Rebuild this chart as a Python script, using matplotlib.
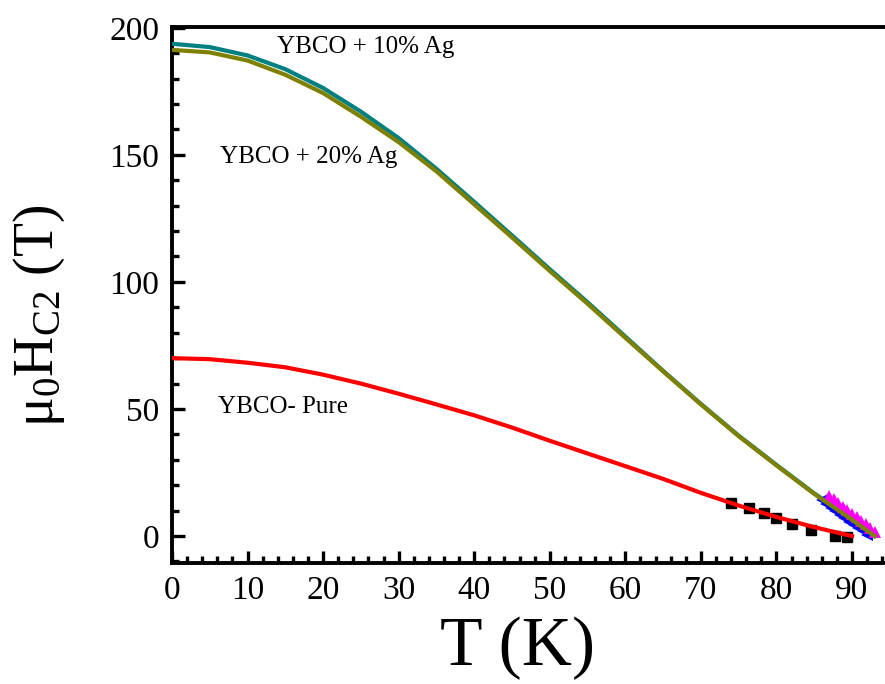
import matplotlib
matplotlib.use("Agg")
import matplotlib.pyplot as plt
from matplotlib.ticker import MultipleLocator

plt.rcParams['font.family'] = ['Liberation Serif', 'DejaVu Serif']
plt.rcParams['mathtext.fontset'] = 'custom'
plt.rcParams['mathtext.rm'] = 'Liberation Serif'
plt.rcParams['mathtext.it'] = 'Liberation Serif'

# ---- data ----
T_curve = [0, 5, 10, 15, 20, 25, 30, 35, 40, 45, 50, 55, 60, 65, 70, 75, 80, 85, 90, 93]
H_ag10 = [193.7, 192.4, 189.1, 183.7, 176.3, 167.0, 156.6, 144.5, 131.5, 118.3,
          105.0, 92.0, 78.5, 65.0, 52.0, 39.5, 28.0, 16.8, 6.5, 0.0]
H_ag20 = [191.3, 190.3, 187.1, 181.5, 174.3, 165.0, 155.0, 143.5, 130.5, 117.5,
          104.3, 91.4, 78.0, 64.8, 51.8, 39.3, 27.8, 16.6, 6.4, 0.0]
T_pure = [0, 5, 10, 15, 20, 25, 30, 35, 40, 45, 50, 55, 60, 65, 70, 75, 80, 85, 90]
H_pure = [70.0, 69.6, 68.2, 66.4, 63.5, 60.0, 56.0, 51.8, 47.5, 42.7, 37.5, 32.5,
          27.5, 22.5, 17.0, 12.0, 7.5, 3.5, 0.0]

T_sq = [74.0, 76.4, 78.4, 80.0, 82.1, 84.6, 87.7, 89.3]
H_sq = [12.9, 10.9, 8.9, 7.0, 4.7, 2.4, 0.0, -0.5]

T_blue = [86.0, 86.6, 87.2, 87.8, 88.4, 89.0, 89.6, 90.2, 90.8, 91.4, 92.0]
H_blue = [14.0, 12.6, 11.2, 9.8, 8.4, 7.0, 5.7, 4.4, 3.1, 1.8, 0.6]
T_mag = [87.0, 87.6, 88.2, 88.8, 89.4, 90.0, 90.6, 91.2, 91.8, 92.4, 93.0]
H_mag = [15.8, 14.4, 13.0, 11.6, 10.2, 8.8, 7.4, 6.0, 4.6, 3.2, 1.6]

labels = ["YBCO + 10% Ag", "YBCO + 20% Ag", "YBCO- Pure"]
label_xy = [(13.9, 192.5), (6.3, 149.2), (6.1, 50.8)]

# ---- figure ----
fig = plt.figure(figsize=(8.85, 6.84), dpi=100)
W, Hh = 885, 684
px_per_K = 680 / 90.0
xmax = 95
ax = fig.add_axes([172 / W, (Hh - 563) / Hh, xmax * px_per_K / W, (563 - 27) / Hh])

ax.plot(T_curve, H_ag10, color='#008080', lw=3, zorder=3)
ax.plot(T_curve, H_ag20, color='#808000', lw=3, zorder=4)
ax.plot(T_sq, H_sq, 's', color='black', ms=7, zorder=2)
ax.plot(T_pure, H_pure, color='#ff0000', lw=3, zorder=3)
ax.plot(T_blue, H_blue, '<', color='#0000ff', ms=9, zorder=2, markeredgewidth=0)
ax.plot(T_mag, H_mag, '^', color='#ff00ff', ms=9, zorder=3, markeredgewidth=0)

for txt, (x, y) in zip(labels, label_xy):
    ax.text(x, y, txt, fontsize=18, ha='left', va='center')

ax.set_xlim(0, xmax)
ax.set_ylim(-10.6, 200.3)
ax.xaxis.set_minor_locator(MultipleLocator(2))
ax.yaxis.set_minor_locator(MultipleLocator(10))
ax.set_xticks(range(0, 91, 10))
ax.set_yticks(range(0, 201, 50))

ax.tick_params(which='both', direction='in', top=False, right=False, labelsize=24, width=2.4)
ax.tick_params(which='major', length=9, pad=9)
ax.tick_params(which='minor', length=5)

for s in ['left', 'bottom', 'top']:
    ax.spines[s].set_linewidth(2.8)
ax.spines['right'].set_visible(False)

ax.set_xlabel('T (K)', fontsize=50)
ax.xaxis.set_label_coords(0.482, -0.1)
ax.set_ylabel(r'μ$_0$H$_{\mathrm{C2}}$ (T)', fontsize=40)
ax.yaxis.set_label_coords(-0.146, 0.462)

fig.savefig('out.png', dpi=100)
